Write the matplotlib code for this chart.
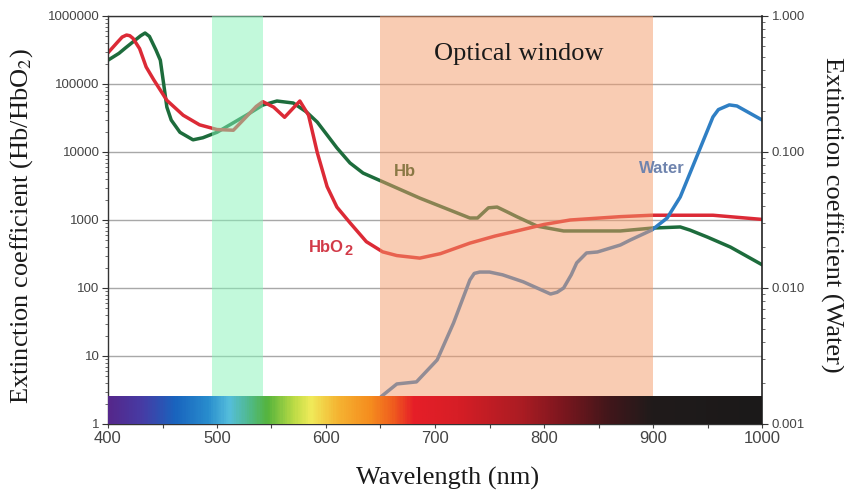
import numpy as np
import matplotlib
matplotlib.use("Agg")
import matplotlib.pyplot as plt
from matplotlib.ticker import LogLocator, FixedLocator, FuncFormatter, NullFormatter, MultipleLocator
from matplotlib.colors import LinearSegmentedColormap

plt.rcParams["mathtext.fontset"] = "stix"

# Deoxy-haemoglobin (Hb) extinction coefficient
hb_nm = [400, 410, 416, 423, 430, 434, 438, 441, 444, 448, 451, 454, 458, 466, 478,
         487, 500, 515, 530, 542, 555, 570, 582, 592, 601, 610, 622, 634, 648, 686,
         732, 739, 749, 757, 766, 775, 794, 818, 870, 899, 925, 934, 950, 971, 1000]
hb_val = [224000, 282000, 339000, 417000, 513000, 562000, 501000, 398000, 316000,
          224000, 102000, 45700, 29500, 19500, 15100, 16200, 19500, 26900, 37200, 49000,
          56200, 52500, 38900, 27500, 17800, 11500, 6900, 4900, 3900, 2100, 1070, 1070,
          1510, 1550, 1320, 1120, 810, 690, 690, 760, 790, 710, 560, 400, 220]

# Oxy-haemoglobin (HbO2) extinction coefficient
hbo2_nm = [400, 409, 413, 417, 420, 423, 429, 435, 442, 454, 469, 484, 500, 515, 524,
           536, 542, 552, 562, 576, 584, 592, 601, 610, 622, 637, 652, 665, 686, 705,
           732, 755, 778, 800, 824, 870, 899, 955, 1000]
hbo2_val = [288000, 417000, 490000, 525000, 513000, 468000, 331000, 178000, 115000,
            57500, 34700, 25100, 21400, 20900, 29500, 46800, 55000, 45700, 32400, 56200,
            34700, 9800, 3100, 1550, 910, 480, 340, 300, 275, 320, 457, 580, 708, 860,
            1000, 1120, 1175, 1175, 1020]

# Water absorption (right axis)
water_nm = [648, 651, 665, 683, 702, 717, 732, 736, 741, 750, 762, 781, 806, 812, 818,
            825, 830, 839, 849, 870, 879, 899, 913, 925, 940, 955, 960, 970, 977, 1000]
water_val = [0.0015, 0.0016, 0.00197, 0.00204, 0.00296, 0.00553, 0.01146, 0.0128,
             0.0131, 0.0131, 0.0125, 0.0111, 0.00903, 0.0093, 0.0100, 0.0125, 0.0153,
             0.0181, 0.0184, 0.0207, 0.0225, 0.0267, 0.0327, 0.0467, 0.0919, 0.181,
             0.205, 0.222, 0.218, 0.172]

# Highlighted wavelength ranges
green_band = (495, 542)
optical_window = (650, 900)

# Visible / NIR colour strip along the bottom
spec_nm = [400, 430, 460, 490, 510, 530, 545, 570, 585, 610, 640, 660, 680, 720, 780,
           820, 860, 900, 1000]
spec_rgb = [(85, 40, 140), (70, 60, 165), (25, 100, 190), (40, 140, 205), (85, 190, 220),
            (80, 185, 130), (85, 180, 60), (190, 220, 70), (240, 235, 90), (245, 180, 50),
            (245, 140, 30), (240, 95, 30), (230, 30, 40), (215, 30, 38), (170, 28, 35),
            (120, 22, 30), (65, 22, 26), (32, 27, 27), (27, 25, 25)]

x_ticks = [400, 500, 600, 700, 800, 900, 1000]
left_ticks = [1, 10, 100, 1000, 10000, 100000, 1000000]
right_ticks = [0.001, 0.01, 0.1, 1.0]

tick_font = "Liberation Sans"
serif_font = "Liberation Serif"

fig = plt.figure(figsize=(8.44, 4.97), dpi=100)
ax = fig.add_axes([108 / 844, 73 / 497, 654 / 844, 408 / 497])

line_kw = dict(lw=2.5, solid_joinstyle="round", solid_capstyle="round", zorder=2)
ax.plot(hb_nm, hb_val, color="#1d6c3c", **line_kw)
ax.plot(hbo2_nm, hbo2_val, color="#dc2a36", **line_kw)

ax.set_yscale("log")
ax.set_xlim(400, 1000)
ax.set_ylim(1, 1e6)
ax.yaxis.set_major_locator(FixedLocator(left_ticks))
ax.yaxis.set_minor_locator(LogLocator(base=10, subs=np.arange(2, 10), numticks=100))
ax.yaxis.set_minor_formatter(NullFormatter())
ax.yaxis.set_major_formatter(FuncFormatter(lambda v, p: f"{int(round(v))}"))
ax.xaxis.set_major_locator(FixedLocator(x_ticks))
ax.xaxis.set_minor_locator(MultipleLocator(50))
ax.grid(axis="y", which="major", color="#a8a8a8", lw=1.0)
ax.set_axisbelow(True)
ax.tick_params(axis="y", which="major", length=4, width=0.8, pad=2,
               labelsize=9.5, labelcolor="#444444", color="#333333")
ax.tick_params(axis="y", which="minor", length=2, width=0.6, color="#555555")
ax.tick_params(axis="x", which="major", length=3, width=0.8, pad=2,
               labelsize=12, labelcolor="#444444", color="#444444")
ax.tick_params(axis="x", which="minor", length=3, width=0.8, color="#444444")
for lab in ax.get_xticklabels() + ax.get_yticklabels():
    lab.set_fontfamily(tick_font)
for side in ["top", "left", "bottom"]:
    ax.spines[side].set_color("#333333")
    ax.spines[side].set_linewidth(1.0)
ax.spines["right"].set_visible(False)

# Right axis for water, which also carries the overlays
ax2 = ax.twinx()
ax2.plot(water_nm, water_val, color="#2f7fc4", **line_kw)
ax2.set_yscale("log")
ax2.set_ylim(0.001, 1)
ax2.set_xlim(400, 1000)
ax2.yaxis.set_major_locator(FixedLocator(right_ticks))
ax2.yaxis.set_minor_locator(LogLocator(base=10, subs=np.arange(2, 10), numticks=100))
ax2.yaxis.set_minor_formatter(NullFormatter())
ax2.yaxis.set_major_formatter(FuncFormatter(lambda v, p: f"{v:.3f}"))
ax2.tick_params(axis="y", which="major", length=4, width=0.8, pad=3,
                labelsize=9.5, labelcolor="#444444", color="#333333")
ax2.tick_params(axis="y", which="minor", length=2, width=0.6, color="#555555")
for lab in ax2.get_yticklabels():
    lab.set_fontfamily(tick_font)
ax2.spines["right"].set_color("#222222")
ax2.spines["right"].set_linewidth(1.2)
for side in ["top", "left", "bottom"]:
    ax2.spines[side].set_visible(False)

# Translucent bands laid over the curves
ax2.axvspan(*green_band, color="#86f5b9", alpha=0.5, lw=0, zorder=3)
ax2.axvspan(*optical_window, color="#f59a68", alpha=0.5, lw=0, zorder=3)

# Colour strip
cmap = LinearSegmentedColormap.from_list(
    "spectrum",
    [((n - spec_nm[0]) / (spec_nm[-1] - spec_nm[0]), tuple(c / 255 for c in rgb))
     for n, rgb in zip(spec_nm, spec_rgb)])
grad = np.linspace(spec_nm[0], spec_nm[-1], 600)[None, :]
strip_top = np.log10(2.6) / 6.0
ax2.imshow(grad, cmap=cmap, aspect="auto", interpolation="bilinear",
           extent=(400, 1000, 0, strip_top), transform=ax2.get_xaxis_transform(),
           zorder=4)
ax2.set_xlim(400, 1000)
ax2.set_ylim(0.001, 1)

# Curve labels
label_kw = dict(transform=ax.transData, fontweight="bold",
                family=[tick_font, "DejaVu Sans"], va="center", zorder=6)
ax2.text(672, 5100, "Hb", color="#8a7845", fontsize=12, ha="center", **label_kw)
ax2.text(616, 390, "HbO", color="#d23a48", fontsize=12, ha="right", **label_kw)
ax2.text(617, 350, "2", color="#d23a48", fontsize=10.5, ha="left", **label_kw)
ax2.text(908, 5800, "Water", color="#6f84ae", fontsize=12, ha="center", **label_kw)
ax2.text(777, 2.8e5, "Optical window", transform=ax.transData, color="#1a1a1a",
         fontsize=19, family=serif_font, ha="center", va="center", zorder=6)

# Axis titles
fig.text(22 / 844, 1 - 226 / 497, r"Extinction coefficient (Hb/HbO$_2$)",
         rotation=90, ha="center", va="center", fontsize=19, family=serif_font,
         color="#1a1a1a")
fig.text(832 / 844, 1 - 215 / 497, "Extinction coefficient (Water)",
         rotation=270, ha="center", va="center", fontsize=19, family=serif_font,
         color="#1a1a1a")
fig.text(448 / 844, 1 - 478 / 497, "Wavelength (nm)", ha="center", va="center",
         fontsize=19, family=serif_font, color="#1a1a1a")

fig.savefig("out.png", dpi=100)
